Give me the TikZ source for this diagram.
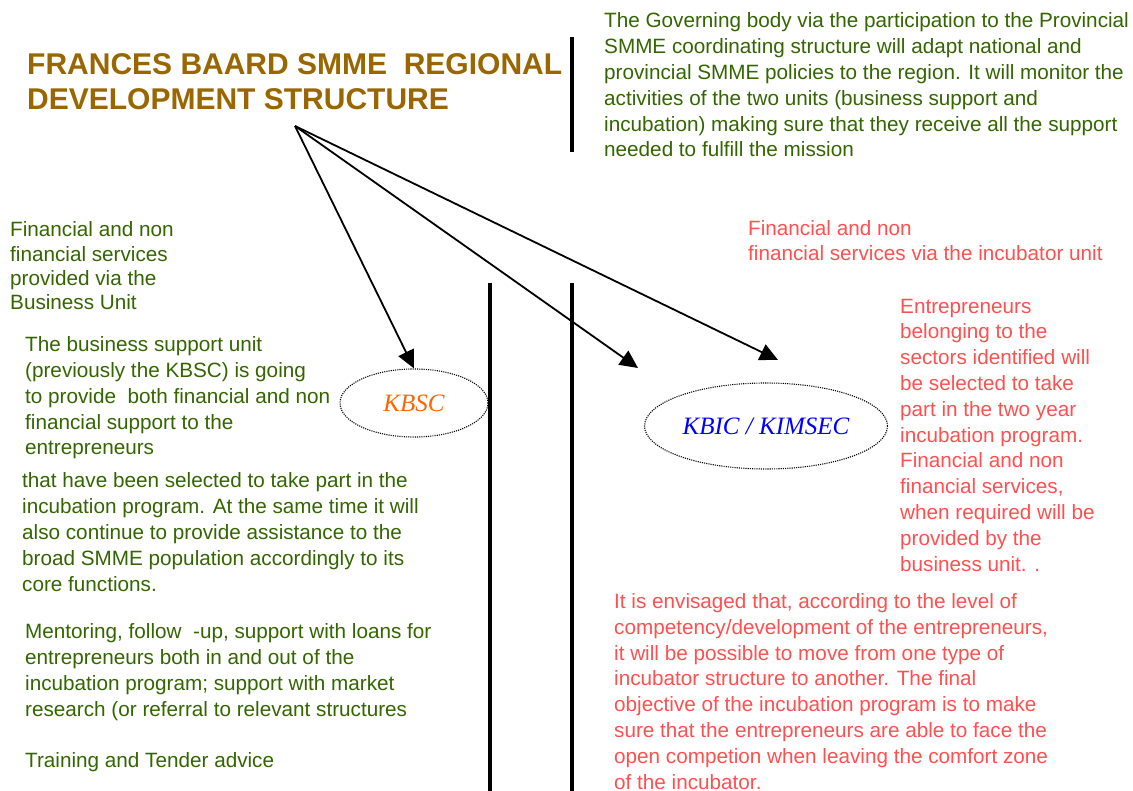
\documentclass[tikz,border=0pt]{standalone}
\usepackage{fontspec}
\setmainfont{Liberation Sans}
\newfontfamily\unitfont{Liberation Serif}
\usetikzlibrary{arrows.meta, shapes.geometric}

\definecolor{titlebrown}{HTML}{996600}
\definecolor{govgreen}{HTML}{336600}
\definecolor{incred}{HTML}{FF5050}
\definecolor{kbscorange}{HTML}{FF6600}

\begin{document}
\begin{tikzpicture}[
    x=1pt, y=-1pt,
    >={Triangle[length=18pt,width=17pt]},
    % notes are placed by the baseline of their last line
    note/.style={align=left, inner sep=0pt, anchor=base west,
        font=\fontsize{20.7}{25.8}\selectfont},
    green note/.style={note, text=govgreen},
    red note/.style={note, text=incred},
    unit/.style={ellipse, draw, dash pattern=on 1.1pt off 1.1pt, line width=1.1pt,
        inner sep=0pt, font=\unitfont\itshape\fontsize{25}{29}\selectfont},
    divider/.style={line width=4pt},
    link/.style={->, line width=1.8pt},
]
    \useasboundingbox (0,0) rectangle (1133,791);

    % heading and governing body
    \node[note, text=titlebrown, font=\bfseries\fontsize{30}{35}\selectfont] (title)
        at (27,110) {FRANCES BAARD SMME\ \ REGIONAL\\DEVELOPMENT STRUCTURE};
    \node[green note] (governing) at (604,157)
        {The Governing body via the participation to the Provincial\\
         SMME coordinating structure will adapt national and\\
         provincial SMME policies to the region. It will monitor the\\
         activities of the two units (business support and\\
         incubation) making sure that they receive all the support\\
         needed to fulfill the mission};
    \draw[divider] (572,37) -- (572,152);

    % business unit side
    \node[green note, font=\fontsize{20.7}{24.4}\selectfont] (bizservices) at (10,310)
        {Financial and non\\financial services\\provided via the\\Business Unit};
    \node[green note] (bizunit) at (25,455)
        {The business support unit\\
         (previously the KBSC) is going\\
         to provide\ \ both financial and non\\
         financial support to the\\
         entrepreneurs};
    \node[green note] (bizselected) at (22,591)
        {that have been selected to take part in the\\
         incubation program. At the same time it will\\
         also continue to provide assistance to the\\
         broad SMME population accordingly to its\\
         core functions.};
    \node[green note] (mentoring) at (25,716)
        {Mentoring, follow\ \ -up, support with loans for\\
         entrepreneurs both in and out of the\\
         incubation program; support with market\\
         research (or referral to relevant structures};
    \node[green note] (training) at (25,767) {Training and Tender advice};
    \node[unit, text=kbscorange, minimum width=148pt, minimum height=68pt] (kbsc)
        at (414,403) {KBSC};

    % incubator side
    \node[red note, font=\fontsize{20.7}{25}\selectfont] (incservices) at (748,261)
        {Financial and non\\financial services via the incubator unit};
    \node[red note] (selection) at (900,571)
        {Entrepreneurs\\
         belonging to the\\
         sectors identified will\\
         be selected to take\\
         part in the two year\\
         incubation program.\\
         Financial and non\\
         financial services,\\
         when required will be\\
         provided by the\\
         business unit. .};
    \node[red note] (envisaged) at (614,789)
        {It is envisaged that, according to the level of\\
         competency/development of the entrepreneurs,\\
         it will be possible to move from one type of\\
         incubator structure to another. The final\\
         objective of the incubation program is to make\\
         sure that the entrepreneurs are able to face the\\
         open competion when leaving the comfort zone\\
         of the incubator.};
    \node[unit, text=blue, minimum width=243pt, minimum height=86pt] (kbic)
        at (766,426) {KBIC / KIMSEC};

    \draw[divider] (490,283) -- (490,791);
    \draw[divider] (572,283) -- (572,791);

    % links from the structure
    \coordinate (hub) at (295,126);
    \coordinate (kbictip) at (638,368);
    \coordinate (kimsectip) at (778,360);
    \draw[link] (hub) -- (kbsc.north);
    \draw[link] (hub) -- (kbictip);
    \draw[link] (hub) -- (kimsectip);
\end{tikzpicture}
\end{document}
